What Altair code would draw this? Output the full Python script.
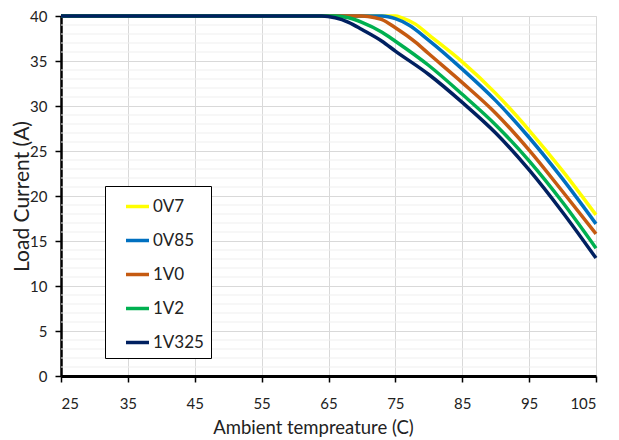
import altair as alt
import pandas as pd

series = ["0V7", "0V85", "1V0", "1V2", "1V325"]
colors = ["#FFFF00", "#0070C0", "#C55A11", "#00B050", "#002060"]

t_0v7 = [25, 75, 76, 78, 80, 85, 90, 95, 100, 105]
i_0v7 = [40, 40, 39.8, 39.1, 37.9, 34.9, 31.4, 27.3, 22.8, 17.9]

t_0v85 = [25, 73, 75, 77, 80, 85, 90, 95, 100, 105]
i_0v85 = [40, 40, 39.7, 39.0, 37.3, 34.1, 30.6, 26.5, 21.9, 16.9]

t_1v0 = [25, 70, 72, 73, 75, 78, 80, 85, 90, 95, 100, 105]
i_1v0 = [40, 40, 39.8, 39.6, 38.7, 37.1, 35.8, 32.6, 29.2, 25.1, 20.5, 15.8]

t_1v2 = [25, 66, 68, 70, 73, 75, 80, 85, 90, 95, 100, 105]
i_1v2 = [40, 40, 39.8, 39.3, 38.2, 37.2, 34.5, 31.3, 27.9, 23.9, 19.3, 14.2]

t_1v325 = [25, 64, 66, 68, 70, 73, 75, 80, 85, 90, 95, 100, 105]
i_1v325 = [40, 40, 39.8, 39.3, 38.5, 37.2, 36.1, 33.5, 30.4, 27.0, 22.9, 18.2, 13.1]

x_ticks = [25, 35, 45, 55, 65, 75, 85, 95, 105]
y_ticks = [0, 5, 10, 15, 20, 25, 30, 35, 40]
y_minor = [v for v in range(1, 40) if v % 5 != 0]

rows = []
for k, (name, ts, cs) in enumerate(zip(
        series,
        [t_0v7, t_0v85, t_1v0, t_1v2, t_1v325],
        [i_0v7, i_0v85, i_1v0, i_1v2, i_1v325])):
    for t, c in zip(ts, cs):
        rows.append({"series": name, "order": k, "temp": t, "current": c})
df = pd.DataFrame(rows)
minor_df = pd.DataFrame({"current": y_minor})

FONT = "Lato"

xscale = alt.Scale(domain=[25, 105], nice=False, zero=False)
yscale = alt.Scale(domain=[0, 40], nice=False)

y_axis = alt.Axis(values=y_ticks, title="Load Current (A)",
                  grid=True, gridColor="#d9d9d9", gridWidth=1,
                  domainColor="black", domainWidth=2.5,
                  tickColor="black", tickSize=6, tickWidth=1.5,
                  labelFont=FONT, labelFontSize=15, labelColor="#222",
                  labelPadding=8,
                  titleFont=FONT, titleFontSize=21, titleFontWeight="normal",
                  titleColor="#222", titleX=-39, titleY=180, titleAngle=270,
                  titleAlign="center", titleBaseline="middle")

x_axis = alt.Axis(values=x_ticks, title="Ambient tempreature (C)",
                  grid=True, gridColor="#d9d9d9", gridWidth=1,
                  domainColor="black", domainWidth=3,
                  tickColor="black", tickSize=6, tickWidth=1.5,
                  labelFont=FONT, labelFontSize=15, labelColor="#222",
                  labelPadding=14,
                  titleFont=FONT, titleFontSize=18.5, titleFontWeight="normal",
                  titleColor="#222", titleX=252, titleY=51,
                  titleAlign="center", titleBaseline="middle")

minor = alt.Chart(minor_df).mark_rule(color="#efefef", strokeWidth=1).encode(
    y=alt.Y("current:Q", scale=yscale, axis=y_axis)
)

lines = alt.Chart(df).mark_line(strokeWidth=3.5, interpolate="monotone").encode(
    x=alt.X("temp:Q", scale=xscale, axis=x_axis),
    y=alt.Y("current:Q", scale=yscale, axis=y_axis),
    color=alt.Color("series:N", sort=series,
                    scale=alt.Scale(domain=series, range=colors),
                    legend=alt.Legend(title=None, orient="none", legendX=44, legendY=170,
                                      symbolType="stroke", symbolStrokeWidth=3.5,
                                      symbolSize=529, labelFont=FONT, labelFontSize=17,
                                      labelColor="#222", labelOffset=2, rowPadding=12,
                                      padding=7, symbolOffset=12,
                                      labelExpr="datum.label + '\u00a0\u00a0\u00a0\u00a0'",
                                      strokeColor="black", fillColor="white")),
    order=alt.Order("order:Q"),
    detail="series:N",
)

chart = alt.layer(minor, lines).properties(
    width=535, height=360,
    autosize=alt.AutoSizeParams(type="none"),
    padding={"left": 53, "top": 8, "right": 15, "bottom": 62},
).configure_view(stroke="black", strokeWidth=2.5).configure(background="white")

chart.save("out.html", embed_options={"renderer": "svg", "actions": False})
